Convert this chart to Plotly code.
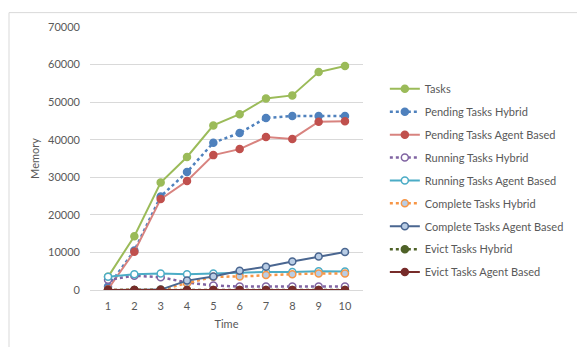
import plotly.graph_objects as go

time = [1, 2, 3, 4, 5, 6, 7, 8, 9, 10]
tasks = [3500, 14300, 28600, 35400, 43800, 46800, 51000, 51800, 58000, 59600]
pending_hybrid = [900, 10500, 24900, 31400, 39200, 41800, 45800, 46300, 46300, 46300]
pending_agent = [200, 10200, 24200, 29000, 35900, 37500, 40700, 40200, 44800, 44900]
running_hybrid = [2700, 3800, 3400, 2000, 1200, 900, 900, 900, 900, 900]
running_agent = [3500, 4200, 4400, 4200, 4400, 4600, 4800, 4800, 5000, 4900]
complete_hybrid = [0, 0, 100, 1800, 3500, 3600, 4000, 4200, 4400, 4400]
complete_agent = [0, 0, 100, 2500, 3600, 5100, 6200, 7600, 8900, 10100]
evict_hybrid = [0, 0, 0, 0, 0, 0, 0, 0, 0, 0]
evict_agent = [0, 0, 0, 0, 0, 0, 0, 0, 0, 0]

series = [
    ("Tasks", tasks, "#9BBB59", "solid", "#9BBB59", "#9BBB59"),
    ("Pending Tasks Hybrid", pending_hybrid, "#4F81BD", "dot", "#4F81BD", "#4F81BD"),
    ("Pending Tasks Agent Based", pending_agent, "#D8837F", "solid", "#C0504D", "#C0504D"),
    ("Running Tasks Hybrid", running_hybrid, "#8064A2", "dot", "#FFFFFF", "#8064A2"),
    ("Running Tasks Agent Based", running_agent, "#4BACC6", "solid", "#FFFFFF", "#4BACC6"),
    ("Complete Tasks Hybrid", complete_hybrid, "#F79646", "dot", "#B9CDE5", "#F79646"),
    ("Complete Tasks Agent Based", complete_agent, "#4A6690", "solid", "#B9CDE5", "#4A6690"),
    ("Evict Tasks Hybrid", evict_hybrid, "#4F6228", "dot", "#4F6228", "#4F6228"),
    ("Evict Tasks Agent Based", evict_agent, "#772C2A", "solid", "#772C2A", "#772C2A"),
]

FONT = "Lato"
GREY = "#595959"

fig = go.Figure()
for i, (name, vals, lc, dash, mfill, mline) in enumerate(series):
    fig.add_trace(go.Scatter(
        x=[str(t) for t in time], y=vals, name=name, mode="lines+markers",
        line=dict(color=lc, width=2.5 if dash == "dot" else 2, dash=dash),
        marker=dict(size=7, color=mfill, line=dict(color=mline, width=1.5)),
        legendgroup=f"g{i}",
    ))

# page body adds an 8px margin, so the figure is sized/offset to compensate
fig.update_layout(
    width=577, height=339,
    margin=dict(l=82, r=222, t=13, b=57),
    paper_bgcolor="white", plot_bgcolor="white",
    font=dict(family=FONT, size=11, color=GREY),
    showlegend=True,
    legend=dict(x=1.08, y=0.82, xanchor="left", yanchor="top",
                traceorder="grouped", tracegroupgap=3.9,
                font=dict(family=FONT, size=11, color=GREY),
                bgcolor="rgba(0,0,0,0)"),
    xaxis=dict(type="category", showgrid=False, zeroline=False,
               showline=True, linecolor="#D9D9D9", linewidth=1,
               ticks="", ticklabelstandoff=6,
               title=dict(text="Time", standoff=9, font=dict(size=11, color=GREY))),
    yaxis=dict(range=[0, 70000], dtick=10000, showgrid=True, gridcolor="#D9D9D9",
               zeroline=False, showline=False, ticks="", ticklabelstandoff=9,
               tickformat="d",
               title=dict(text="Memory", standoff=6, font=dict(size=11, color=GREY))),
    shapes=[dict(type="rect", xref="paper", yref="paper",
                 x0=-0.2967, x1=1.7985, y0=-0.5, y1=1.0547,
                 line=dict(color="#D9D9D9", width=1), layer="below")],
)

fig.write_html("out.html")
